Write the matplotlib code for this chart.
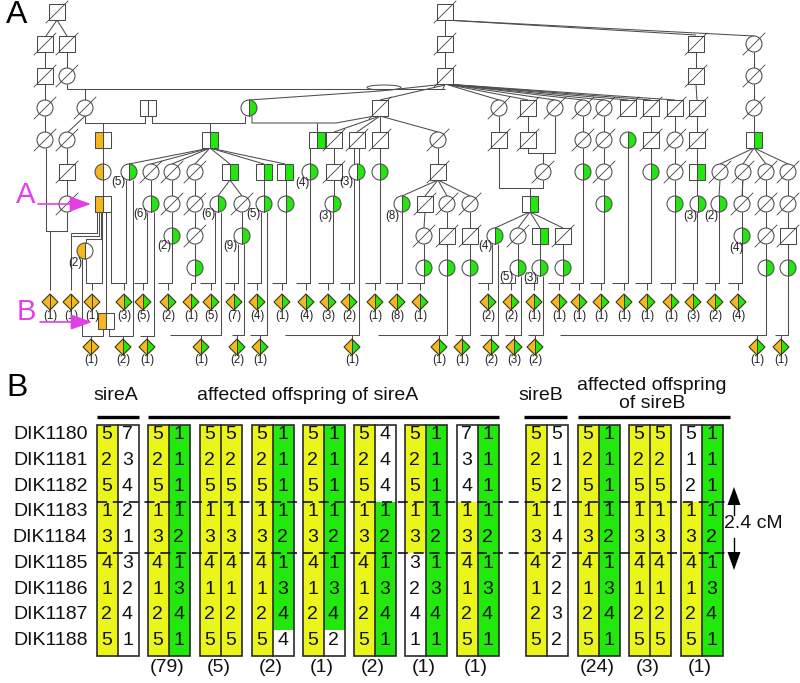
import matplotlib
matplotlib.use("Agg")
import matplotlib.pyplot as plt
from matplotlib.patches import Rectangle, Circle, Wedge, Polygon, Ellipse

plt.rcParams['font.family'] = ['Liberation Sans', 'DejaVu Sans']

GREEN = '#22e80e'
ORANGE = '#f6b71c'
YELLOW = '#ecf51a'
EDGE = '#4a4a4a'
MAGENTA = '#e23fe6'

# ---------- Panel A: pedigree ----------
dead_squares = [(57, 12), (45, 44), (67, 44), (45, 76), (380, 108), (334, 140), (357, 140), (380, 140),
                (67, 172), (334, 172), (445, 12), (445, 44), (445, 76), (696, 44), (696, 76),
                (528, 108), (628, 108), (651, 108), (675, 108), (697, 108), (499, 140), (528, 140),
                (651, 140), (697, 140), (438, 172), (425, 204), (447, 236), (470, 236), (563, 236), (788, 236)]
dead_circles = [(67, 76), (45, 108), (85, 108), (45, 140), (67, 140), (67, 204), (151, 172), (172, 172), (195, 172),
                (172, 204), (195, 204), (242, 204), (195, 236), (499, 108), (555, 108), (583, 108), (604, 108),
                (754, 44), (754, 76), (754, 108), (438, 140), (583, 140), (604, 140), (675, 140), (543, 172),
                (604, 172), (675, 172), (720, 172), (743, 172), (766, 172), (788, 172), (447, 204), (470, 204),
                (742, 204), (766, 204), (788, 204), (424, 236), (518, 236), (766, 236)]
plain_half_squares = [(140, 108), (148, 108)]
green_squares = [(210, 140), (317, 140), (754, 140), (230, 172), (264, 172), (285, 172), (697, 172), (530, 204),
                 (540, 236)]
green_circles = [(249, 108), (129, 172), (310, 172), (357, 172), (380, 172), (628, 140), (583, 172), (651, 172),
                 (151, 204), (218, 204), (264, 204), (286, 204), (333, 204), (402, 204), (604, 204), (675, 204),
                 (698, 204), (719, 204), (172, 236), (242, 236), (495, 236), (742, 236), (195, 268), (424, 268),
                 (447, 268), (470, 268), (518, 268), (540, 268), (563, 268), (766, 268), (788, 268)]
orange_squares = [(103, 140), (103, 204), (106, 321)]
orange_circles = [(103, 172), (85, 251)]

upper_diamonds_x = [50, 71, 92, 124, 143, 168, 191, 211, 234, 257, 282, 306, 328, 349, 375, 397, 420, 488, 511, 534,
                    559, 579, 601, 624, 647, 671, 693, 715, 738]
upper_counts = [1, 1, 1, 3, 5, 2, 1, 5, 7, 4, 1, 4, 3, 2, 1, 8, 1, 2, 2, 1, 1, 1, 1, 1, 1, 1, 3, 2, 4]
lower_diamonds_x = [91, 123, 147, 201, 237, 260, 352, 439, 462, 491, 514, 535, 757, 781]
lower_counts = [1, 2, 1, 1, 2, 1, 1, 1, 1, 2, 3, 2, 1, 1]
all_orange_diamonds = [50, 71, 92, 91]

side_labels = [(118, 182, 5), (302, 183, 4), (346, 182, 3), (140, 214, 6), (208, 214, 6), (253, 214, 5), (325, 216, 3),
               (392, 216, 8), (164, 246, 2), (230, 246, 9), (75, 263, 2), (485, 246, 4), (506, 277, 5), (530, 278, 3),
               (690, 216, 3), (711, 216, 2), (736, 248, 4)]

links = [
    [(57, 20), (46, 36)], [(57, 20), (67, 36)], [(45, 52), (45, 68)], [(67, 52), (67, 68)], [(45, 84), (45, 100)],
    [(67, 84), (67, 89), (445, 89)],
    [(445, 84), (443, 89)], [(85, 89), (85, 100)], [(45, 116), (45, 132)], [(85, 116), (67, 133)],
    [(85, 116), (85, 123), (145, 123), (145, 116)], [(152, 116), (152, 123), (245, 123), (245, 116)],
    [(252, 116), (252, 123), (336, 123), (380, 115)], [(103, 123), (103, 132)], [(210, 123), (210, 132)],
    [(317, 123), (317, 132)], [(249, 100), (380, 91), (445, 84)], [(380, 100), (445, 85)], [(380, 116), (380, 132)],
    [(380, 116), (334, 132)], [(380, 116), (357, 132)], [(380, 116), (438, 132)], [(445, 20), (445, 36)], [(445, 52), (445, 68)],
    [(445, 20), (696, 35)], [(445, 20), (754, 36)], [(696, 52), (696, 68)], [(754, 52), (754, 68)], [(696, 84), (697, 100)],
    [(754, 84), (754, 100)], [(754, 116), (754, 132)],
    [(445, 84), (499, 100)], [(445, 84), (528, 100)], [(445, 84), (555, 100)], [(445, 84), (583, 100)],
    [(445, 84), (604, 100)], [(445, 84), (628, 100)], [(445, 84), (651, 100)], [(445, 84), (675, 100)],
    [(499, 116), (499, 132)], [(528, 116), (528, 132)], [(555, 116), (555, 153), (528, 153), (528, 148)],
    [(543, 153), (543, 164)], [(499, 148), (499, 188), (543, 188), (543, 180)], [(530, 188), (530, 196)],
    [(583, 116), (583, 132)], [(604, 116), (604, 132)], [(651, 116), (651, 132)], [(675, 116), (675, 132)], [(697, 116), (697, 132)],
    [(583, 148), (583, 164)], [(604, 148), (604, 164)], [(651, 148), (651, 164)], [(675, 148), (675, 164)], [(697, 148), (697, 164)],
    [(438, 148), (438, 164)], [(604, 180), (604, 196)], [(675, 180), (675, 196)], [(697, 180), (697, 196)],
    [(46, 148), (46, 231), (50, 231), (50, 290)], [(67, 148), (67, 164)], [(67, 180), (67, 196)], [(67, 212), (67, 231), (46, 231)],
    [(70.5, 232.5), (70.5, 290)], [(70.5, 232.5), (97, 232.5), (97, 212)], [(72, 235.5), (99, 235.5), (99, 212)],
    [(101, 212), (101, 239), (86, 239), (86, 243)], [(86, 259), (86, 283), (102, 283), (102, 212)], [(92, 283), (92, 290)],
    [(82, 252), (82, 336), (103, 336), (103, 329)], [(91, 336), (91, 339)],
    [(106, 212), (106, 313)], [(109, 329), (109, 336), (133, 336)], [(140, 336), (154, 336), (154, 212)], [(123, 336), (123, 339)], [(147, 336), (147, 339)],
    [(111, 212), (111, 283), (126, 283), (126, 180)], [(124, 283), (124, 290)], [(133, 180), (133, 336)], [(103, 148), (103, 164)],
    [(103, 180), (103, 196)], [(134, 283), (147, 283), (147, 212)], [(143, 283), (143, 290)],
    [(210, 148), (129, 164)], [(210, 148), (151, 164)], [(210, 148), (172, 164)], [(210, 148), (195, 164)],
    [(210, 148), (230, 164)], [(210, 148), (264, 164)], [(210, 148), (285, 164)],
    [(151, 180), (151, 196)], [(172, 180), (172, 196)], [(195, 180), (195, 196)],
    [(172, 212), (172, 228)], [(195, 212), (195, 228)], [(195, 244), (195, 260)], [(172, 244), (172, 283), (158, 283)],
    [(168, 283), (168, 290)], [(195, 276), (195, 283), (191, 283), (191, 290)],
    [(230, 180), (218, 196)], [(230, 180), (242, 196)], [(242, 212), (242, 228)],
    [(200, 283), (215, 283), (215, 212)], [(211, 283), (211, 290)], [(221, 212), (221, 335), (170, 335)], [(201, 335), (201, 339)],
    [(225, 283), (238, 283), (238, 244)], [(234, 283), (234, 290)], [(244, 244), (244, 335), (232, 335)], [(237, 335), (237, 339)],
    [(264, 180), (264, 196)], [(286, 180), (286, 196)], [(261, 212), (261, 283), (247, 283)], [(257, 283), (257, 290)],
    [(267, 212), (267, 335), (250, 335)], [(260, 335), (260, 339)], [(286, 212), (286, 283), (272, 283)], [(282, 283), (282, 290)],
    [(310, 148), (310, 283), (296, 283)], [(306, 283), (306, 290)], [(334, 148), (334, 164)], [(334, 180), (334, 196)],
    [(333, 212), (333, 283), (318, 283)], [(328, 283), (328, 290)], [(354, 148), (354, 283), (340, 283)], [(349, 283), (349, 290)],
    [(359, 148), (359, 335), (285, 335)], [(352, 335), (352, 339)], [(380, 148), (380, 164)], [(380, 180), (380, 283), (365, 283)],
    [(375, 283), (375, 290)],
    [(438, 180), (402, 196)], [(438, 180), (425, 196)], [(438, 180), (447, 196)], [(438, 180), (470, 196)],
    [(402, 212), (402, 283), (385, 283)], [(397, 283), (397, 290)],
    [(425, 212), (424, 228)], [(447, 212), (447, 228)], [(470, 212), (470, 228)], [(424, 244), (424, 260)],
    [(424, 276), (424, 283), (407, 283)], [(420, 283), (420, 290)], [(447, 244), (447, 335), (378, 335)], [(439, 335), (439, 339)],
    [(470, 244), (470, 335), (455, 335)], [(462, 335), (462, 339)],
    [(530, 212), (495, 228)], [(530, 212), (518, 228)], [(530, 212), (540, 228)], [(530, 212), (563, 228)],
    [(492, 244), (492, 283), (478, 283)], [(488, 283), (488, 290)], [(498, 244), (498, 335), (480, 335)], [(491, 335), (491, 339)],
    [(518, 244), (518, 260)], [(540, 244), (540, 260)], [(563, 244), (563, 260)],
    [(500, 283), (515, 283), (515, 276)], [(511, 283), (511, 290)], [(521, 276), (521, 335), (505, 335)], [(514, 335), (514, 339)],
    [(525, 283), (537, 283), (537, 276)], [(534, 283), (534, 290)], [(543, 276), (543, 335), (528, 335)], [(535, 335), (535, 339)],
    [(563, 276), (563, 283), (548, 283)], [(559, 283), (559, 290)], [(583, 180), (583, 283), (570, 283)], [(579, 283), (579, 290)],
    [(604, 212), (604, 283), (590, 283)], [(601, 283), (601, 290)], [(628, 148), (628, 283), (612, 283)], [(624, 283), (624, 290)],
    [(651, 180), (651, 283), (635, 283)], [(647, 283), (647, 290)], [(675, 212), (675, 283), (660, 283)], [(671, 283), (671, 290)],
    [(697, 212), (697, 283), (682, 283)], [(693, 283), (693, 290)], [(719, 212), (719, 283), (705, 283)], [(715, 283), (715, 290)],
    [(742, 244), (742, 283), (728, 283)], [(738, 283), (738, 290)], [(742, 180), (742, 196)], [(742, 212), (742, 228)],
    [(720, 180), (719, 196)], [(743, 180), (742, 196)], [(766, 180), (766, 196)], [(788, 180), (788, 196)],
    [(766, 212), (766, 228)], [(788, 212), (788, 228)], [(766, 244), (766, 260)], [(788, 244), (788, 260)],
    [(754, 148), (720, 164)], [(754, 148), (743, 164)], [(754, 148), (766, 164)], [(754, 148), (788, 164)],
    [(560, 335), (766, 335), (766, 276)], [(757, 335), (757, 339)], [(775, 335), (788, 335), (788, 276)], [(781, 335), (781, 339)],
]

# ---------- Panel B: haplotypes ----------
markers = ['DIK1180', 'DIK1181', 'DIK1182', 'DIK1183', 'DIK1184', 'DIK1185', 'DIK1186', 'DIK1187', 'DIK1188']
hap_a = [5, 2, 5, 1, 3, 4, 1, 2, 5]
hap_a2 = [7, 3, 4, 2, 1, 3, 2, 4, 1]
hap_g = [1, 1, 1, 1, 2, 1, 3, 4, 1]
hap_b2 = [5, 1, 2, 1, 4, 2, 2, 3, 2]
block_left = [97, 148, 200, 252, 303, 354, 405, 457, 526, 578, 629, 681]
block_counts = ['', '(79)', '(5)', '(2)', '(1)', '(2)', '(1)', '(1)', '', '(24)', '(3)', '(1)']
left_vals = [hap_a, hap_a, hap_a, hap_a, hap_a, hap_a, [5, 2, 5, 1, 3, 3, 2, 4, 1], [7, 3, 4, 1, 3, 4, 1, 2, 5],
             hap_a, hap_a, hap_a, [5, 1, 2, 1, 3, 4, 1, 2, 5]]
right_vals = [hap_a2, hap_g, hap_a, [1, 1, 1, 1, 2, 1, 3, 4, 4], [1, 1, 1, 1, 2, 1, 3, 4, 2], [4, 4, 4, 1, 2, 1, 3, 4, 1], hap_g, hap_g,
              hap_b2, hap_g, hap_a, hap_g]
left_cols = ['yyyyyyyyy', 'yyyyyyyyy', 'yyyyyyyyy', 'yyyyyyyyy', 'yyyyyyyyy', 'yyyyyyyyy', 'yyyyywwww', 'wwwyyyyyy',
             'yyyyyyyyy', 'yyyyyyyyy', 'yyyyyyyyy', 'wwwyyyyyy']
right_cols = ['wwwwwwwww', 'ggggggggg', 'yyyyyyyyy', 'ggggggggw', 'ggggggggw', 'wwwgggggg', 'ggggggggg', 'ggggggggg',
              'wwwwwwwww', 'ggggggggg', 'yyyyyyyyy', 'ggggggggg']
COL = {'y': YELLOW, 'g': GREEN, 'w': 'white'}

header_bars = [(97, 139), (148, 499), (523.5, 567), (578, 730)]

fig = plt.figure(figsize=(8.0, 6.83), dpi=100)
ax = fig.add_axes([0, 0, 1, 1])
ax.set_xlim(0, 800)
ax.set_ylim(683, 0)
ax.axis('off')

LW = 0.75
R = 8


def slash(x, y):
    ax.plot([x - 11, x + 11], [y + 11, y - 11], color='#333', lw=0.55, zorder=4)


def square(x, y, side=None, col=None):
    ax.add_patch(Rectangle((x - R, y - R), 2 * R, 2 * R, fc='white', ec='none', zorder=3))
    if side == 'r':
        ax.add_patch(Rectangle((x, y - R), R, 2 * R, fc=col, ec='none', zorder=3))
    if side == 'l':
        ax.add_patch(Rectangle((x - R, y - R), R, 2 * R, fc=col, ec='none', zorder=3))
    ax.add_patch(Rectangle((x - R, y - R), 2 * R, 2 * R, fc='none', ec=EDGE, lw=LW, zorder=3.2))
    if side:
        ax.plot([x, x], [y - R, y + R], color=EDGE, lw=LW, zorder=3.2)


def circle(x, y, side=None, col=None):
    ax.add_patch(Circle((x, y), R, fc='white', ec='none', zorder=3))
    if side == 'r':
        ax.add_patch(Wedge((x, y), R, -90, 90, fc=col, ec='none', zorder=3))
    if side == 'l':
        ax.add_patch(Wedge((x, y), R, 90, 270, fc=col, ec='none', zorder=3))
    ax.add_patch(Circle((x, y), R, fc='none', ec=EDGE, lw=LW, zorder=3.2))
    if side:
        ax.plot([x, x], [y - R, y + R], color=EDGE, lw=LW, zorder=3.2)


def diamond(x, y, n, both):
    right = ORANGE if both else GREEN
    ax.add_patch(Polygon([(x, y - R), (x, y + R), (x - R, y)], fc=ORANGE, ec='none', zorder=3))
    ax.add_patch(Polygon([(x, y - R), (x, y + R), (x + R, y)], fc=right, ec='none', zorder=3))
    ax.add_patch(Polygon([(x, y - R), (x + R, y), (x, y + R), (x - R, y)], fc='none', ec='#3a3a1a', lw=0.8, zorder=3.2))
    ax.plot([x, x], [y - R, y + R], color='#3a3a1a', lw=0.7, zorder=3.2)
    ax.text(x, y + 13.5, f'({n})', ha='center', va='center', fontsize=8.3, color='#222')


for path in links:
    ax.plot([p[0] for p in path], [p[1] for p in path], color='#4d4d4d', lw=0.75, zorder=2, solid_capstyle='butt')
ax.add_patch(Ellipse((384, 87.5), 34, 5, fc='none', ec='#4d4d4d', lw=0.7, zorder=2))

for x, y in dead_squares:
    square(x, y)
    slash(x, y)
for x, y in dead_circles:
    circle(x, y)
    slash(x, y)
for x, y in plain_half_squares:
    ax.add_patch(Rectangle((x, y - R), 8, 2 * R, fc='white', ec=EDGE, lw=LW, zorder=3))
for x, y in green_squares:
    square(x, y, 'r', GREEN)
for x, y in green_circles:
    circle(x, y, 'r', GREEN)
for x, y in orange_squares:
    square(x, y, 'l', ORANGE)
for x, y in orange_circles:
    circle(x, y, 'l', ORANGE)

for x, n in zip(upper_diamonds_x, upper_counts):
    diamond(x, 302, n, x in all_orange_diamonds)
for x, n in zip(lower_diamonds_x, lower_counts):
    diamond(x, 347, n, x in all_orange_diamonds)
for x, y, n in side_labels:
    ax.text(x, y, f'({n})', ha='center', va='center', fontsize=8.3, color='#222', zorder=5)

ax.text(17, 15, 'A', ha='center', va='center', fontsize=23, color='black')
ax.text(17, 388, 'B', ha='center', va='center', fontsize=23, color='black')
ax.text(26, 195, 'A', ha='center', va='center', fontsize=21, color=MAGENTA)
ax.text(26, 312, 'B', ha='center', va='center', fontsize=21, color=MAGENTA)
ax.annotate('', xy=(91, 204), xytext=(38, 204), zorder=6,
            arrowprops=dict(arrowstyle='-|>,head_width=0.47,head_length=1.3', color=MAGENTA, lw=1.2, shrinkA=0, shrinkB=0))
ax.annotate('', xy=(92, 322), xytext=(40, 322), zorder=6,
            arrowprops=dict(arrowstyle='-|>,head_width=0.47,head_length=1.3', color=MAGENTA, lw=1.2, shrinkA=0, shrinkB=0))

# Panel B
TOP, BOT = 424.5, 656
ROW = (BOT - TOP) / 9
CW = 21
for m, name in enumerate(markers):
    ax.text(87.5, TOP + ROW * (m + 0.4), name, ha='right', va='center', fontsize=14, color='#111')

for i, bx in enumerate(block_left):
    for c, (vals, cols) in enumerate(((left_vals[i], left_cols[i]), (right_vals[i], right_cols[i]))):
        cx = bx + c * CW
        for r in range(9):
            ax.add_patch(Rectangle((cx, TOP + r * ROW), CW, ROW + 0.3, fc=COL[cols[r]], ec='none', zorder=2))
            ax.text(cx + CW / 2 - 1, TOP + ROW * (r + 0.4), str(vals[r]), ha='center', va='center', fontsize=14,
                    color='#111', zorder=4)
    ax.add_patch(Rectangle((bx, TOP), 2 * CW, BOT - TOP, fc='none', ec='#2a2a2a', lw=1.2, zorder=3))
    ax.plot([bx + CW, bx + CW], [TOP, BOT], color='#2a2a2a', lw=1.2, zorder=3)
    if block_counts[i]:
        ax.text(bx + CW - 2, 668, block_counts[i], ha='center', va='center', fontsize=14, color='#111')

for y in (501.7, 553.3):
    ax.plot([97, 726], [y, y], color='#10102a', lw=1.2, dashes=(6, 3.5), zorder=5)

for a, b in header_bars:
    ax.plot([a, b], [416.5, 416.5], color='black', lw=2.4, solid_capstyle='butt')
ax.text(116, 396, 'sireA', ha='center', va='center', fontsize=14, color='#111')
ax.text(308, 396, 'affected offspring of sireA', ha='center', va='center', fontsize=14, color='#111')
ax.text(541, 396, 'sireB', ha='center', va='center', fontsize=14, color='#111')
ax.text(652, 386, 'affected offspring', ha='center', va='center', fontsize=14, color='#111')
ax.text(652, 403, 'of sireB', ha='center', va='center', fontsize=14, color='#111')

ax.plot([734, 734], [505, 515], color='black', lw=1.0)
ax.plot([734, 734], [538, 553], color='black', lw=1.0)
ax.add_patch(Polygon([(734, 487), (727.5, 505), (740.5, 505)], fc='black', ec='none'))
ax.add_patch(Polygon([(734, 570), (727.5, 552), (740.5, 552)], fc='black', ec='none'))
ax.text(753, 524, '2.4 cM', ha='center', va='center', fontsize=14, color='#111')

fig.savefig('out.png', dpi=100)
